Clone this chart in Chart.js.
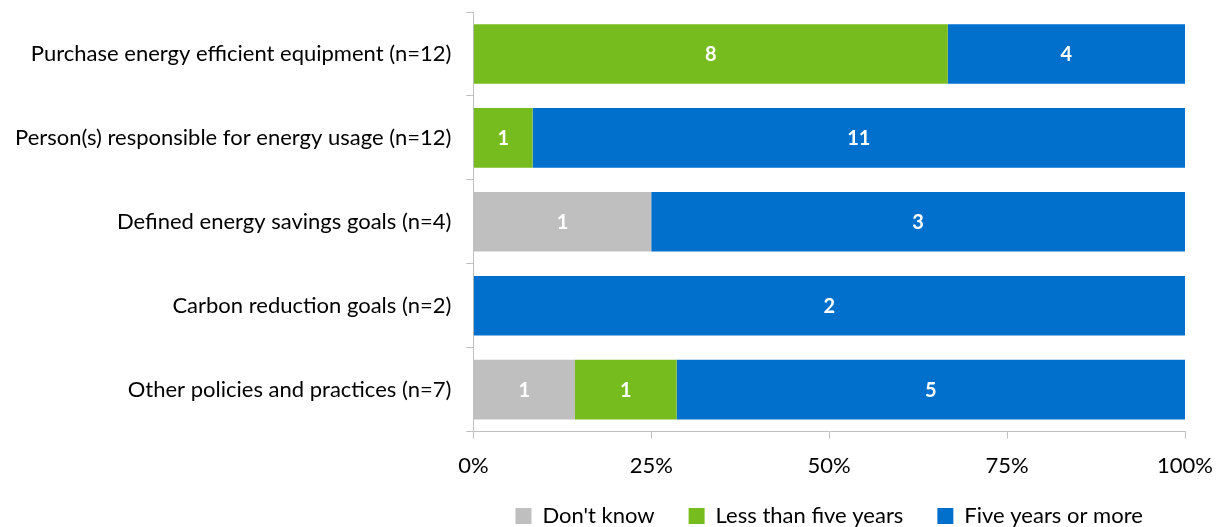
<!DOCTYPE html>
<html>
<head>
<meta charset="utf-8">
<script src="https://cdn.jsdelivr.net/npm/chart.js@4.4.0/dist/chart.umd.min.js"></script>
<style>
  html, body { margin: 0; padding: 0; background: #ffffff; }
  #wrap { width: 1220px; height: 527px; }
</style>
</head>
<body>
<div id="wrap"><canvas id="policyChart" width="1220" height="527"></canvas></div>
<script>
var categories = [
    "Purchase energy efficient equipment (n=12)",
    "Person(s) responsible for energy usage (n=12)",
    "Defined energy savings goals (n=4)",
    "Carbon reduction goals (n=2)",
    "Other policies and practices (n=7)"
];
var dontKnow = [0, 0, 1, 0, 1];
var lessThanFive = [8, 1, 0, 0, 1];
var fiveOrMore = [4, 11, 3, 2, 5];
var tickLabels = ["0%", "25%", "50%", "75%", "100%"];

var seriesNames = ["Don't know", "Less than five years", "Five years or more"];
var seriesColors = ["#bfbfbf", "#77bc1f", "#0070cc"];
var seriesCounts = [dontKnow, lessThanFive, fiveOrMore];

// totals per row, used to turn counts into shares of 100%
var totals = categories.map(function (c, i) {
    return dontKnow[i] + lessThanFive[i] + fiveOrMore[i];
});

var FONT = "Lato, 'Open Sans', sans-serif";
var LEGEND_TEXT_Y = 516;

// writes the raw count in the middle of each segment
var countLabels = {
    id: "countLabels",
    afterDatasetsDraw: function (chart) {
        var ctx = chart.ctx;
        ctx.save();
        ctx.fillStyle = "#ffffff";
        ctx.font = "bold 20px " + FONT;
        ctx.textAlign = "center";
        ctx.textBaseline = "middle";
        chart.data.datasets.forEach(function (ds, di) {
            var meta = chart.getDatasetMeta(di);
            meta.data.forEach(function (bar, i) {
                var n = ds.counts[i];
                if (!n) return;
                var p = bar.getProps(["x", "y", "base"], true);
                ctx.fillText(String(n), (p.x + p.base) / 2, p.y + 1);
            });
        });
        ctx.restore();
    }
};

// center the legend under the plot area and pin its row near the bottom edge
var legendUnderPlot = {
    id: "legendUnderPlot",
    afterLayout: function (chart) {
        var lg = chart.legend, ca = chart.chartArea;
        var pad = lg.options.labels.padding;
        lg.left = ca.left;
        lg.right = ca.right;
        lg.width = lg.right - lg.left;
        lg.top = LEGEND_TEXT_Y - pad - 11;
        lg.bottom = chart.height;
        lg.height = lg.bottom - lg.top;
    }
};

var ctx = document.getElementById("policyChart").getContext("2d");
var policyChart = new Chart(ctx, {
    type: "bar",
    data: {
        labels: categories,
        datasets: seriesNames.map(function (name, k) {
            return {
                label: name,
                counts: seriesCounts[k],
                data: seriesCounts[k].map(function (v, i) { return v / totals[i] * 100; }),
                backgroundColor: seriesColors[k],
                borderWidth: 0,
                categoryPercentage: 0.71,
                barPercentage: 1.0
            };
        })
    },
    options: {
        indexAxis: "y",
        responsive: false,
        animation: false,
        layout: { padding: { top: 12, right: 35, left: 0, bottom: 0 } },
        scales: {
            x: {
                stacked: true,
                min: 0,
                max: 100,
                border: { color: "#bfbfbf", width: 1 },
                grid: { drawOnChartArea: false, drawTicks: true, tickLength: 7, color: "#bfbfbf" },
                ticks: {
                    stepSize: 25,
                    color: "#000000",
                    padding: 14,
                    font: { family: FONT, size: 22 },
                    callback: function (v) { return tickLabels[v / 25]; }
                },
                afterFit: function (scale) {
                    scale.paddingLeft = 0;
                    scale.paddingRight = 0;
                }
            },
            y: {
                stacked: true,
                border: { color: "#bfbfbf", width: 1 },
                grid: { drawOnChartArea: false, offset: true, tickLength: 7, color: "#bfbfbf" },
                ticks: {
                    color: "#000000",
                    padding: 15,
                    font: { family: FONT, size: 22 }
                },
                // labels sit inside the bands, so no extra room above/below is needed
                afterFit: function (scale) {
                    scale.paddingTop = 0;
                    scale.paddingBottom = 0;
                }
            }
        },
        plugins: {
            legend: {
                position: "bottom",
                maxHeight: 34,
                labels: {
                    color: "#000000",
                    boxWidth: 16,
                    boxHeight: 16,
                    padding: 34,
                    font: { family: FONT, size: 22 }
                }
            },
            tooltip: { enabled: false }
        }
    },
    plugins: [countLabels, legendUnderPlot]
});
</script>
</body>
</html>
